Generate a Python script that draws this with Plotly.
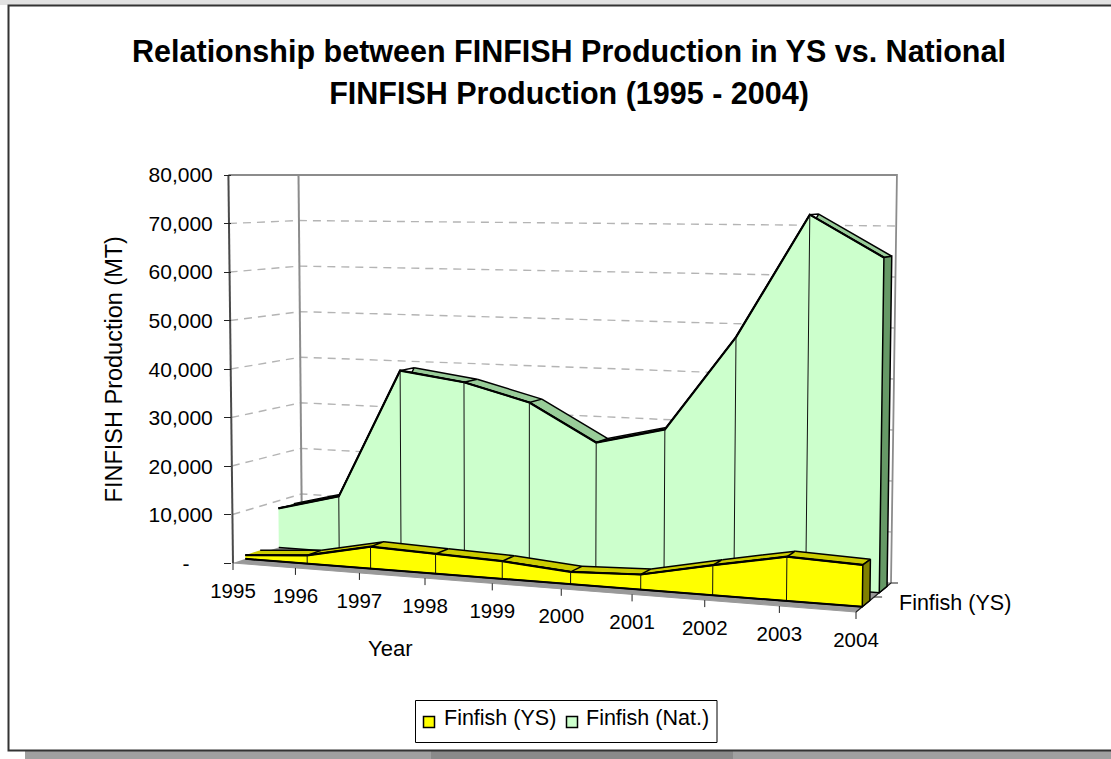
import numpy as np
import plotly.graph_objects as go

years = ["1995", "1996", "1997", "1998", "1999", "2000", "2001", "2002", "2003", "2004"]
finfish_ys = [750, 1700, 4450, 3950, 3500, 2400, 2900, 5700, 8300, 7750]
finfish_nat = [8400, 11800, 39000, 37100, 33500, 26000, 29300, 48100, 72300, 64200]
value_ticks = [0, 10000, 20000, 30000, 40000, 50000, 60000, 70000, 80000]
value_labels = ["-\u00a0\u00a0\u00a0\u00a0", "10,000", "20,000", "30,000", "40,000", "50,000", "60,000", "70,000", "80,000"]

W, H = 1111, 759
VMAX = 80000
FONT = "Liberation Sans, Arial, sans-serif"
FS = 21
HORIZON = 175      # the top of the 3-D box is seen edge-on
LEAN_X, LEAN = 520, 0.016   # verticals converge slightly downwards


def floor_map(corners):
    src = [(0, 0), (1, 0), (1, 1), (0, 1)]
    A, b = [], []
    for (u, v), (x, y) in zip(src, corners):
        A.append([u, v, 1, 0, 0, 0, -u * x, -v * x])
        A.append([0, 0, 0, u, v, 1, -u * y, -v * y])
        b += [x, y]
    return np.append(np.linalg.solve(np.array(A, float), np.array(b, float)), 1).reshape(3, 3)


FLOOR = floor_map([(233, 563), (856, 612), (891, 583), (302, 539.5)])


def project(i, d, v):
    u = i / 9
    u = u - 0.016 * u * (1 - u)
    q = FLOOR @ np.array([u, d, 1.0])
    xf, yf = q[0] / q[2], q[1] / q[2]
    t = v / VMAX
    return float(xf + (xf - LEAN_X) * LEAN * t), float(yf + (HORIZON - yf) * t)


def path(points):
    return [p[0] for p in points], [p[1] for p in points]


def broken(groups):
    xs, ys = [], []
    for g in groups:
        gx, gy = path(g)
        xs += gx + [None]
        ys += gy + [None]
    return xs, ys


fig = go.Figure()


def polygon(groups, fill, lw=1.5, color="black"):
    x, y = broken(groups)
    fig.add_trace(go.Scatter(x=x, y=y, mode="lines", fill="toself", fillcolor=fill,
                             line=dict(color=color, width=lw), hoverinfo="skip", showlegend=False))


def lines(groups, color, lw=1.0, dash=None):
    x, y = broken(groups)
    fig.add_trace(go.Scatter(x=x, y=y, mode="lines", line=dict(color=color, width=lw, dash=dash),
                             hoverinfo="skip", showlegend=False))


# walls and floor
polygon([[project(0, 0, 0), project(9, 0, 0), project(9, 1, 0), project(0, 1, 0)]], "#999999", 1, "#999999")
lines([[project(0, 0, v), project(0, 1, v), project(9, 1, v)] for v in value_ticks[1:-1]],
      "#b4b4b4", 1.4, "8px,6px")
lines([[project(0, 0, VMAX), project(0, 1, VMAX), project(9, 1, VMAX), project(9, 1, 0)]], "#8c8c8c", 1.8)
lines([[project(0, 1, VMAX), project(0, 1, 0)]], "#8c8c8c", 2)
lines([[project(0, 0, VMAX), project(0, 0, 0)]], "#4a4a4a", 2)
lines([[project(9, 0, 0), project(9, 1, 0)]], "#222222", 1.2)


def series(values, d0, d1, front, top, side):
    n = len(values)
    polygon([[project(i, d0, values[i]), project(i + 1, d0, values[i + 1]),
              project(i + 1, d1, values[i + 1]), project(i, d1, values[i])] for i in range(n - 1)], top, 1.5)
    polygon([[project(n - 1, d0, 0), project(n - 1, d1, 0),
              project(n - 1, d1, values[-1]), project(n - 1, d0, values[-1])]], side, 1.5)
    outline = [project(i, d0, values[i]) for i in range(n)]
    base = [project(i, d0, 0) for i in range(n - 1, -1, -1)]
    polygon([outline + base], front, 1.5)
    lines([outline], "black", 2.2)
    lines([[project(i, d0, values[i]), project(i, d0, 0)] for i in range(1, n - 1)], "#111111", 1)


series(finfish_nat, 0.65, 0.88, "#CCFFCC", "#99CC99", "#669966")
series(finfish_ys, 0.17, 0.38, "#FFFF00", "#CCCC00", "#808000")
lines([[project(0, 0.17, 0), project(9, 0.17, 0)]], "black", 2)

# category ticks and labels on the floor edge
ticks = []
for i in range(len(years)):
    x0, y0 = project(i, 0, 0)
    ticks.append([(x0, y0), (x0, y0 + 7)])
x1, y1 = project(9, 0.5, 0)
x2, y2 = project(9, 1, 0)
ticks += [[(x1, y1), (x1 + 8, y1)], [(x2, y2), (x2 + 7, y2)]]
lines(ticks, "#222222", 1)
lx = [project(i, 0, 0)[0] for i in range(len(years))]
ly = [project(i, 0, 0)[1] + 29.5 for i in range(len(years))]
fig.add_trace(go.Scatter(x=lx, y=ly, mode="text", text=years, textposition="middle center",
                         textfont=dict(family=FONT, size=20.5, color="black"),
                         hoverinfo="skip", showlegend=False))

# legend swatches
fig.add_trace(go.Scatter(x=[429, 572], y=[722, 722], mode="markers",
                         marker=dict(symbol="square", size=11, color=["#FFFF00", "#CCFFCC"],
                                     line=dict(color="black", width=1.5)),
                         hoverinfo="skip", showlegend=False))

# value axis (own scale)
fig.add_trace(go.Scatter(x=[None], y=[None], yaxis="y2", showlegend=False, hoverinfo="skip"))

shapes = [
    dict(type="rect", x0=0, x1=W, y0=0, y1=5, fillcolor="#e2e2e2", line_width=0, layer="below"),
    dict(type="rect", x0=25, x1=W, y0=751, y1=H, fillcolor="#a0a0a0", line_width=0, layer="below"),
    dict(type="rect", x0=431, x1=733, y0=751, y1=H, fillcolor="#8a8a8a", line_width=0, layer="below"),
    dict(type="rect", x0=8.5, x1=W + 10, y0=5.5, y1=750.5, fillcolor="white",
         line=dict(color="#333333", width=2), layer="below"),
    dict(type="rect", x0=415.5, x1=717, y0=700.5, y1=742.5, fillcolor="white",
         line=dict(color="black", width=1), layer="below"),
]


def label(x, y, text, anchor="left", size=FS):
    return dict(x=x, y=y, xref="x", yref="y", text=text, showarrow=False, xanchor=anchor, yanchor="middle",
                font=dict(family=FONT, size=size, color="black"))


annotations = [
    label(389.5, 648, "Year", "center", 22),
    label(897, 603, "Finfish (YS)", "left", 21.5),
    label(442, 718, "Finfish (YS)", "left", 21.5),
    label(584, 718, "Finfish (Nat.)", "left", 21.5),
]

fig.update_layout(
    width=W, height=H, margin=dict(l=0, r=0, t=0, b=0), autosize=False,
    paper_bgcolor="white", plot_bgcolor="rgba(0,0,0,0)", showlegend=False,
    title=dict(
        text='<span style="font-size:30.5px">Relationship between FINFISH Production in YS vs. National<br>'
             'FINFISH Production (1995 - 2004)</span>',
        x=569 / W, xanchor="center", y=1 - 62 / H, yanchor="top",
        font=dict(family=FONT, size=32, color="black", weight="bold")),
    xaxis=dict(range=[0, W], visible=False, domain=[0, 1], fixedrange=True, automargin=False),
    yaxis=dict(range=[H, 0], visible=False, domain=[0, 1], fixedrange=True, automargin=False),
    yaxis2=dict(domain=[1 - 563.5 / H, 1 - 175 / H], range=[0, VMAX], anchor="free", position=231 / W,
                side="left", showgrid=False, zeroline=False, showline=False, automargin=False,
                tickmode="array", tickvals=value_ticks, ticktext=value_labels,
                ticks="outside", ticklen=7, tickcolor="#222222", tickwidth=1, ticklabelstandoff=7,
                tickfont=dict(family=FONT, size=FS, color="black"),
                title=dict(text="FINFISH Production (MT)", standoff=18,
                           font=dict(family=FONT, size=23.5, color="black")),
                fixedrange=True),
    shapes=shapes, annotations=annotations,
)

fig.write_html("out.html", config={"displayModeBar": False}, post_script=(
    "document.body.style.margin='0';document.body.style.overflow='hidden';"
    "var g=document.getElementById('{plot_id}');g.style.position='fixed';g.style.left='0';g.style.top='0';"
))
